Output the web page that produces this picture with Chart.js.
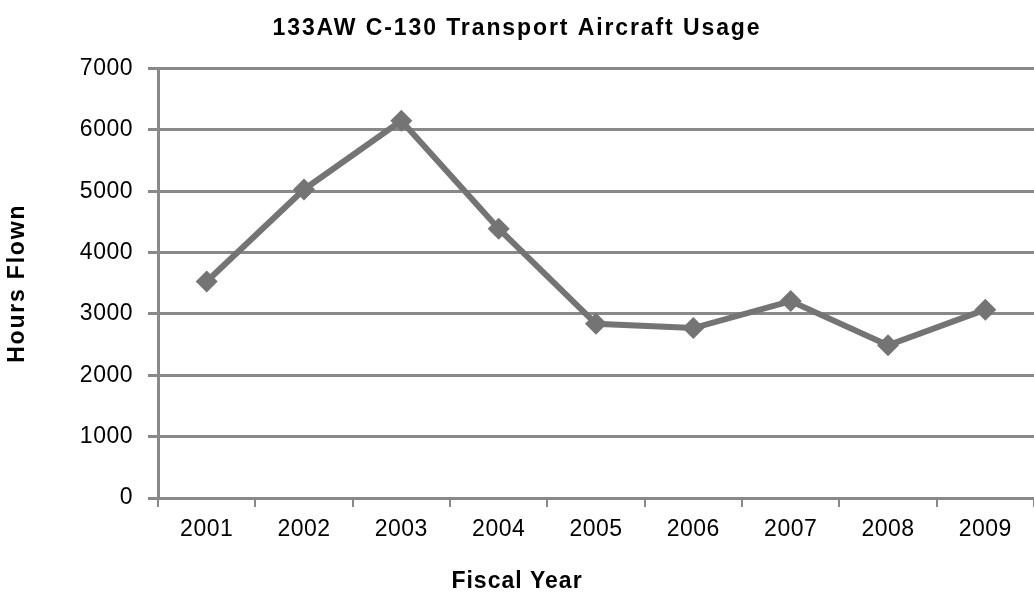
<!DOCTYPE html>
<html>
<head>
<meta charset="utf-8">
<script src="https://cdn.jsdelivr.net/npm/chart.js@4/dist/chart.umd.min.js"></script>
<style>
  html, body { margin: 0; padding: 0; background: #fff; }
  #wrap { width: 1034px; height: 595px; }
</style>
</head>
<body>
<div id="wrap"><canvas id="usageChart"></canvas></div>
<script>
// donnees
const annees = ["2001", "2002", "2003", "2004", "2005", "2006", "2007", "2008", "2009"];
const heuresVol = [3530, 5030, 6150, 4390, 2840, 2770, 3210, 2490, 3070];
const graduationsY = [0, 1000, 2000, 3000, 4000, 5000, 6000, 7000];

const gris = "#747474";
const grisGrille = "#898989";
const police = "'Liberation Sans', Arial, sans-serif";

// espacement des lettres (texte gras un peu plus espacé)
const espacement = {
  id: "espacement",
  beforeDraw(chart) {
    chart.ctx.letterSpacing = "0.5px";
    const bloc = chart.titleBlock;
    if (bloc && !bloc._espace) {
      const dessin = bloc.draw;
      bloc.draw = function (zone) {
        const c = this.ctx;
        c.save();
        c.letterSpacing = "1.9px";
        dessin.call(this, zone);
        c.restore();
      };
      bloc._espace = true;
    }
    // titres des axes ; celui de l'axe x est centré sur toute la largeur
    const dessinTitre = (scale, valeur, centrer) => {
      if (scale._titreEspace) return;
      const orig = scale.drawTitle;
      scale.drawTitle = function () {
        const c = this.ctx;
        c.save();
        c.letterSpacing = valeur;
        if (centrer) {
          c.translate(this.chart.width / 2 - (this.left + this.right) / 2, 0);
        }
        orig.call(this);
        c.restore();
      };
      scale._titreEspace = true;
    };
    dessinTitre(chart.scales.x, "1px", true);
    dessinTitre(chart.scales.y, "1.8px", false);
  }
};

const ctx = document.getElementById("usageChart").getContext("2d");
new Chart(ctx, {
  type: "line",
  data: {
    labels: annees,
    datasets: [
      {
        label: "Hours Flown",
        data: heuresVol,
        borderColor: gris,
        backgroundColor: gris,
        borderWidth: 6,
        tension: 0,
        pointStyle: "rectRot",
        pointRadius: 11,
        pointBorderWidth: 0,
        pointBackgroundColor: gris
      }
    ]
  },
  plugins: [espacement],
  options: {
    responsive: true,
    maintainAspectRatio: false,
    animation: false,
    layout: { autoPadding: false, padding: 0 },
    plugins: {
      legend: { display: false },
      tooltip: { enabled: false },
      title: {
        display: true,
        text: "133AW C-130 Transport Aircraft Usage",
        color: "#000",
        font: { family: police, size: 23, weight: "bold" },
        padding: { top: 15, bottom: 26 }
      }
    },
    scales: {
      x: {
        offset: true,
        grid: {
          offset: true,
          drawOnChartArea: false,
          drawTicks: true,
          tickLength: 9,
          color: grisGrille,
          lineWidth: 2
        },
        border: { display: true, color: grisGrille, width: 3 },
        ticks: {
          color: "#000",
          font: { family: police, size: 23 },
          padding: 9
        },
        title: {
          display: true,
          text: "Fiscal Year",
          color: "#000",
          font: { family: police, size: 23, weight: "bold" },
          padding: { top: 0, bottom: 0 }
        },
        afterFit: scale => { scale.height = 97; }
      },
      y: {
        min: 0,
        max: 7000,
        afterBuildTicks: scale => {
          scale.ticks = graduationsY.map(v => ({ value: v }));
        },
        grid: {
          color: grisGrille,
          lineWidth: 3,
          drawTicks: true,
          tickLength: 10
        },
        border: { display: true, color: grisGrille, width: 3 },
        ticks: {
          color: "#000",
          font: { family: police, size: 23 },
          padding: 15,
          callback: v => String(v)
        },
        title: {
          display: true,
          text: "Hours Flown",
          color: "#000",
          font: { family: police, size: 23, weight: "bold" },
          padding: { top: 4, bottom: 0 }
        },
        afterFit: scale => { scale.width = 158; }
      }
    }
  }
});
</script>
</body>
</html>
